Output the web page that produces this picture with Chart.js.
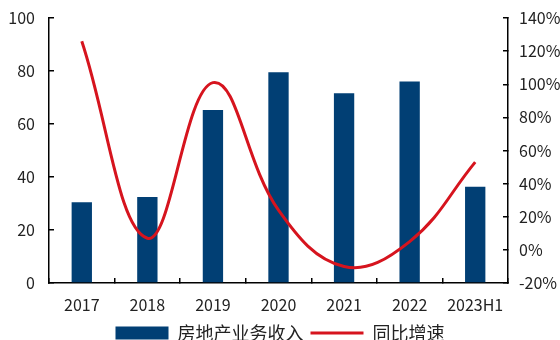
<!DOCTYPE html>
<html>
<head>
<meta charset="utf-8">
<script src="https://cdn.jsdelivr.net/npm/chart.js@4"></script>
<style>
  html, body { margin: 0; padding: 0; background: #fff; }
  #wrap { width: 560px; height: 340px; }
</style>
</head>
<body>
<div id="wrap"><canvas id="myChart" width="560" height="340"></canvas></div>
<script>
// 年份
const years = ["2017", "2018", "2019", "2020", "2021", "2022", "2023H1"];
// 房地产业务收入
const revenue = [30.5, 32.5, 65.3, 79.5, 71.6, 76.0, 36.3];
// 同比增速 (%)
const growth = [126, 7, 101, 24, -10, 5, 53];

const fontFamily = "'Noto Sans CJK SC', 'Noto Sans', sans-serif";

// 轴的上下留白由 layout.padding 控制
const noVPad = (s) => { s.paddingTop = 0; s.paddingBottom = 0; };

window.onload = function() {
    const ctx = document.getElementById("myChart").getContext("2d");
    new Chart(ctx, {
        data: {
            labels: years,
            datasets: [
                {
                    type: "bar",
                    label: "房地产业务收入",
                    data: revenue,
                    backgroundColor: "#013F74",
                    barPercentage: 0.31,
                    categoryPercentage: 1,
                    yAxisID: "y",
                    pointStyle: "rect",
                    order: 2,
                },
                {
                    type: "line",
                    label: "同比增速",
                    data: growth,
                    borderColor: "#D6141E",
                    backgroundColor: "#D6141E",
                    borderWidth: 3,
                    tension: 0.4,
                    pointRadius: 0,
                    pointStyle: "line",
                    yAxisID: "y1",
                    order: 1,
                },
            ],
        },
        options: {
            responsive: false,
            animation: false,
            layout: { padding: { left: 0, right: 0, top: 18, bottom: -12 } },
            plugins: {
                tooltip: { enabled: false },
                legend: {
                    position: "bottom",
                    labels: {
                        usePointStyle: true,
                        pointStyleWidth: 53,
                        boxHeight: 13,
                        padding: 7,
                        color: "#222",
                        font: { family: fontFamily, size: 18 },
                        sort: (a, b) => a.datasetIndex - b.datasetIndex,
                    },
                },
            },
            scales: {
                x: {
                    afterFit: (s) => { s.height = 34; },
                    grid: { display: true, drawOnChartArea: false, tickLength: -5, color: "#000", lineWidth: 1.5 },
                    border: { display: true, color: "#000", width: 1.5 },
                    ticks: { color: "#222", padding: 17, maxRotation: 0, autoSkip: false, font: { family: fontFamily, size: 16 } },
                },
                y: {
                    position: "left",
                    min: 0,
                    max: 100,
                    afterFit: (s) => { s.width = 49; noVPad(s); },
                    ticks: { stepSize: 20, color: "#222", padding: 19, font: { family: fontFamily, size: 16 } },
                    grid: { display: true, drawOnChartArea: false, tickLength: -5, color: "#000", lineWidth: 1.5 },
                    border: { display: true, color: "#000", width: 1.5 },
                },
                y1: {
                    position: "right",
                    min: -20,
                    max: 140,
                    afterFit: (s) => { s.width = 52; noVPad(s); },
                    ticks: {
                        stepSize: 20,
                        color: "#222",
                        padding: 16,
                        font: { family: fontFamily, size: 16 },
                        callback: (v) => v + "%",
                    },
                    grid: { display: true, drawOnChartArea: false, tickLength: -5, color: "#000", lineWidth: 1.5 },
                    border: { display: true, color: "#000", width: 1.5 },
                },
            },
        },
    });
};
</script>
</body>
</html>
